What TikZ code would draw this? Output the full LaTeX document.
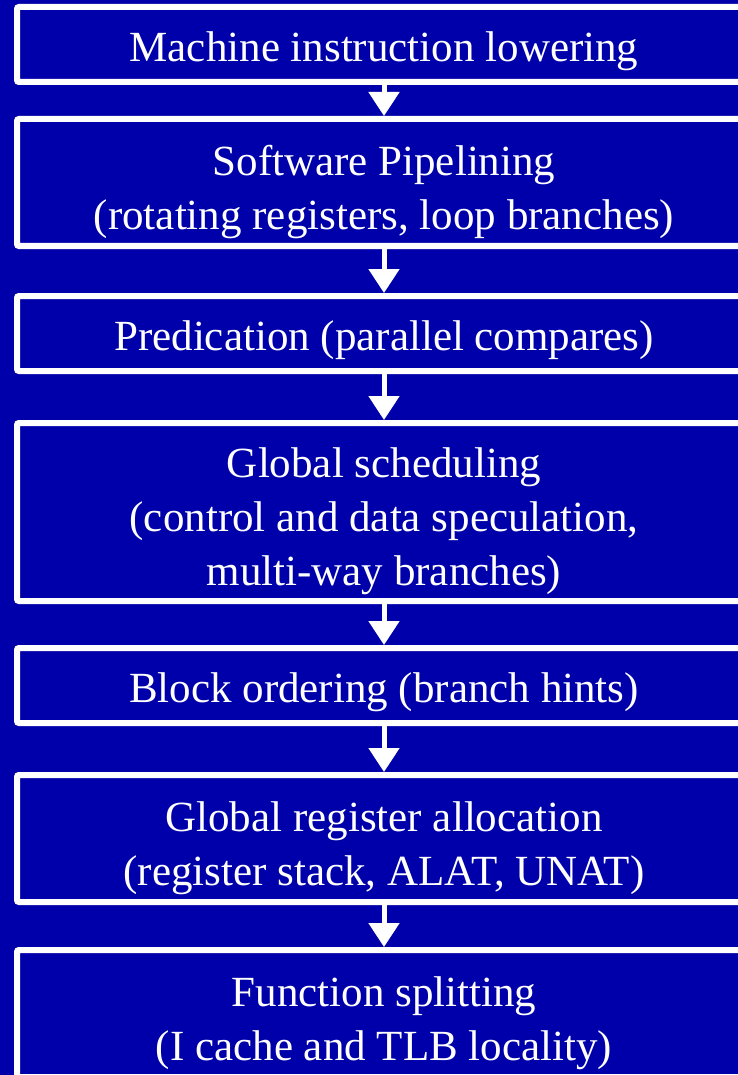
\documentclass[tikz,border=0pt]{standalone}
\usepackage{fontspec}
\setmainfont{Liberation Serif}
\usepackage{tikz}
\usetikzlibrary{arrows.meta,positioning}
\definecolor{bgblue}{RGB}{0,0,170}

\begin{document}
\begin{tikzpicture}[
    x=1pt, y=1pt,
    box/.style={rectangle, draw=white, line width=6pt, rounded corners=2pt, fill=bgblue, text=white,
        minimum width=734pt, align=center, font=\fontsize{43}{54}\selectfont},
    onebox/.style={box, minimum height=75pt, text height=43pt},
    twobox/.style={box, minimum height=127pt, text height=103pt},
    threebox/.style={box, minimum height=178pt, text height=157pt},
    arrow/.style={-{Triangle[width=30pt,length=24pt]}, draw=white, line width=5pt}
]

% Background
\path[use as bounding box, fill=bgblue] (0,0) rectangle (738,-1075);
\clip (0,0) rectangle (738,-1075);

% Pipeline steps
\node[onebox, anchor=north] (lowering) at (384,-4) {Machine instruction lowering};

\node[twobox, below=31pt of lowering] (pipelining) {Software Pipelining\\(rotating registers, loop branches)};

\node[onebox, below=44pt of pipelining] (predication) {Predication (parallel compares)};

\node[threebox, below=46pt of predication] (scheduling) {Global scheduling\\(control and data speculation,\\multi-way branches)};

\node[onebox, below=41pt of scheduling] (ordering) {Block ordering (branch hints)};

\node[twobox, below=46pt of ordering] (allocation) {Global register allocation\\(register stack, ALAT, UNAT)};

\node[twobox, below=42pt of allocation] (splitting) {Function splitting\\(I cache and TLB locality)};

% Arrows
\draw[arrow] (lowering) -- (pipelining);
\draw[arrow] (pipelining) -- (predication);
\draw[arrow] (predication) -- (scheduling);
\draw[arrow] (scheduling) -- (ordering);
\draw[arrow] (ordering) -- (allocation);
\draw[arrow] (allocation) -- (splitting);

\end{tikzpicture}
\end{document}
